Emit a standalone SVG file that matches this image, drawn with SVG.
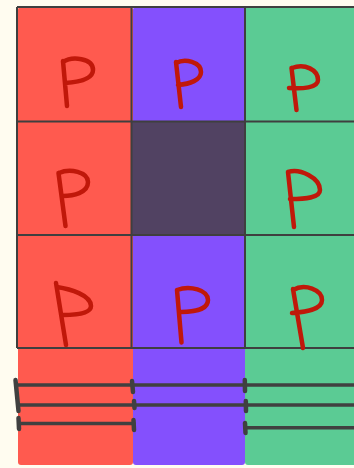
<svg xmlns="http://www.w3.org/2000/svg" width="354" height="468" viewBox="0 0 354 468">
<style>
.red{fill:#ff5a4f}
.vio{fill:#8450fd}
.grn{fill:#5bcb94}
.drk{fill:#514262}
.grid{stroke:#3f3f3f;stroke-width:2;fill:none}
.p{stroke:#c0180a;stroke-width:4.5;fill:none;stroke-linecap:round;stroke-linejoin:round}
.bar{stroke:#404040;stroke-width:3.4;fill:none;stroke-linecap:round}
.tick{stroke:#404040;stroke-width:4.5;fill:none;stroke-linecap:round}
</style>
<rect width="354" height="468" fill="#fffcf0"/>
<g id="columns">
<rect class="red" x="18" y="7" width="115" height="458" rx="3"/>
<rect class="vio" x="133" y="7" width="112" height="458" rx="3"/>
<rect class="grn" x="245" y="7" width="115" height="458" rx="3"/>
</g>
<g id="cell-r2c2"><rect class="drk" x="131.5" y="121.5" width="113.5" height="113.5"/></g>
<g id="grid">
<path class="grid" d="M17,7H354M17,121.5H354M17,235H354M17,348H354M17,7V348M131.5,7V348M245,7V348"/>
</g>
<g id="cell-r1c1"><path class="p" d="M63,61 L67,106 M63,62 C72,56 93,58 93,70 C93,79 80,82 65,83"/></g>
<g id="cell-r1c2"><path class="p" d="M176,62 L181,107 M176,63 C185,58 201,62 201,72 C201,80 190,84 178,85"/></g>
<g id="cell-r1c3"><path class="p" d="M291.5,68 L296.5,110 M292,68 C305,63 318,70 318,80 C318,88 302,89 289,88"/></g>
<g id="cell-r2c1"><path class="p" d="M58.5,173 L65.5,226 M59,173 C70,168 88,172 88,182 C88,193 73,196 63,196"/></g>
<g id="cell-r2c3"><path class="p" d="M288,172 L294,227 M288,172 C300,168 320,178 320,190 C320,198 305,199 290,199"/></g>
<g id="cell-r3c1"><path class="p" d="M56,283 L66,345 M57,287 C70,289 91,295 91,306 C91,314 75,315 63,315"/></g>
<g id="cell-r3c2"><path class="p" d="M177,290 L181.5,342.5 M177,290 C190,285 208,290 208,300 C208,309 195,312 181,312"/></g>
<g id="cell-r3c3"><path class="p" d="M293,289 L303,348 M293,290 C305,283 322,290 322,300 C322,310 305,312 292,313"/></g>
<g id="connectors">
<path class="bar" d="M17,385H354M18,405H354M19,423.5H134M245,427.7H354"/>
<path class="tick" d="M15.5,380L18.5,411M18.5,418L19,429M132,381L133,392M134,401L134.5,408M133.5,420L134,430M244.8,380L245,391M245.8,401L246,411M245,423L245.5,433"/>
</g>
</svg>
